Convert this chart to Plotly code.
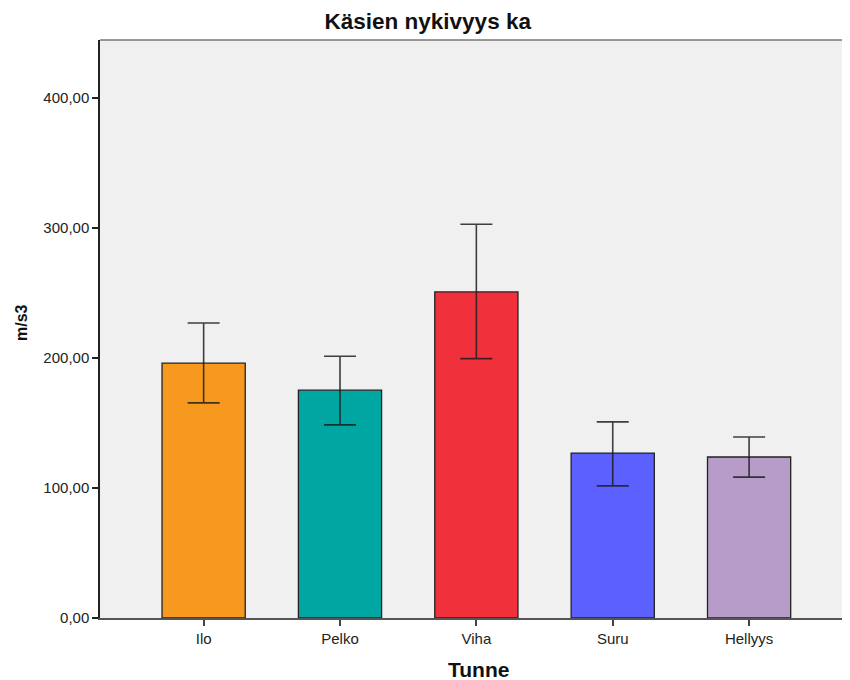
import plotly.graph_objects as go

categories = ["Ilo", "Pelko", "Viha", "Suru", "Hellyys"]
means = [196.0, 175.2, 250.8, 126.8, 123.8]
err_upper = [226.9, 201.3, 302.8, 150.8, 139.2]
err_lower = [165.4, 148.5, 199.5, 101.6, 108.3]
colors = ["#f7991f", "#00a6a2", "#f0313b", "#5b60ff", "#b79bc8"]
y_ticks = [0, 100, 200, 300, 400]
y_tick_labels = ["0,00", "100,00", "200,00", "300,00", "400,00"]

plus = [u - m for u, m in zip(err_upper, means)]
minus = [m - l for m, l in zip(means, err_lower)]

fig = go.Figure(go.Bar(
    x=categories, y=means,
    width=0.61,
    marker=dict(color=colors, line=dict(color="#222222", width=1.3)),
    error_y=dict(type="data", symmetric=False, array=plus, arrayminus=minus,
                 color="rgba(30,30,30,0.85)", thickness=1.6, width=16),
))

W, H = 842, 672
L, T, B = 92, 32, 62
plot_h = H - T - B
fig.update_layout(
    width=W, height=H,
    paper_bgcolor="white", plot_bgcolor="#f0f0f0",
    margin=dict(l=L, r=0, t=T, b=B),
    font=dict(family="Liberation Sans, Arial, sans-serif", color="#222222"),
    title=dict(text="<b>Käsien nykivyys ka</b>", x=0.4985, xanchor="center",
               y=1 - 13 / H, yanchor="middle",
               font=dict(size=22.5, color="#111111")),
    showlegend=False,
    xaxis=dict(range=[-0.76, 4.74], showgrid=False, ticks="outside", ticklen=6,
               tickcolor="#444444", tickwidth=1.5,
               showline=True, linecolor="#555555", linewidth=1.5,
               tickfont=dict(size=15, color="#222222")),
    yaxis=dict(range=[0, 444.5], showgrid=False, zeroline=False, ticks="outside", ticklen=6,
               tickcolor="#222222", tickwidth=1.5,
               showline=True, linecolor="#222222", linewidth=1.5,
               tickvals=y_ticks, ticktext=y_tick_labels,
               tickfont=dict(size=15, color="#222222")),
    annotations=[
        dict(text="<b>m/s3</b>", xref="paper", yref="paper",
             x=(13 - L) / 750, y=(H - B - 315) / plot_h,
             xanchor="center", yanchor="middle", textangle=-90, showarrow=False,
             font=dict(size=16, color="#111111")),
        dict(text="<b>Tunne</b>", xref="paper", yref="paper",
             x=(470.5 - L) / 750, y=(H - B - 661) / plot_h,
             xanchor="center", yanchor="middle", showarrow=False,
             font=dict(size=21, color="#111111")),
    ],
)

fig.add_shape(type="line", xref="paper", yref="paper", x0=0, x1=1, y0=1, y1=1,
              line=dict(color="#777777", width=1.5))

fig.write_html("out.html")
